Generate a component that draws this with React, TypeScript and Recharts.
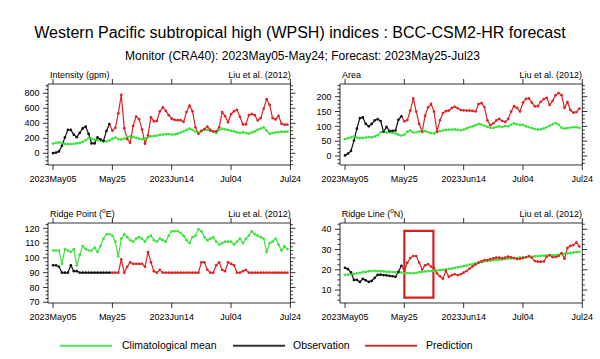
import React from 'react';
import { LineChart, Line, XAxis, YAxis, ReferenceArea } from 'recharts';

// ---------- data ----------
const tickDays = [0, 20, 40, 60, 80];
const tickLabels = ['2023May05', 'May25', '2023Jun14', 'Jul04', 'Jul24'];

const intensityClim = [
  130, 138, 145, 140, 125, 122, 124, 126, 132, 138, 152, 175, 205, 195, 180, 178, 168, 160, 158, 172,
  195, 210, 190, 185, 195, 215, 225, 218, 205, 195, 190, 195, 215, 225, 232, 235, 245, 248, 255, 255,
  250, 252, 262, 276, 293, 311, 328, 310, 290, 280, 298, 312, 312, 300, 290, 270, 312, 328, 320, 312,
  300, 292, 280, 270, 282, 270, 262, 278, 292, 315, 330, 345, 302, 260, 270, 278, 280, 290, 285, 288,
];
const intensityObs = [2, 10, 25, 100, 212, 312, 312, 248, 215, 272, 332, 356, 258, 132, 132, 212, 185, 165, 298, 391];
const intensityPred = [
  300, 340, 535, 780, 335, 190, 140, 365, 490, 455, 320, 130, 240, 480, 425, 432, 560, 612, 565, 508,
  462, 445, 442, 442, 420, 550, 635, 560, 345, 260, 298, 322, 355, 312, 292, 292, 350, 550, 495, 415,
  522, 560, 580, 485, 385, 385, 510, 522, 508, 438, 470, 595, 722, 645, 470, 452, 500, 395, 382, 382,
];

const areaClim = [
  57, 60, 63, 66, 62, 60, 61, 62, 64, 63, 66, 70, 80, 84, 79, 80, 78, 76, 72, 69,
  72, 82, 86, 79, 80, 83, 86, 84, 80, 77, 76, 80, 84, 86, 88, 89, 89, 90, 88, 86,
  89, 93, 97, 100, 104, 108, 106, 102, 98, 95, 95, 98, 100, 98, 101, 100, 106, 110, 107, 105,
  105, 100, 97, 94, 91, 89, 90, 93, 97, 102, 107, 111, 106, 95, 92, 94, 96, 97, 97, 95,
];
const areaObs = [2, 8, 17, 52, 92, 128, 130, 108, 100, 108, 120, 124, 118, 82, 98, 84, 85, 86, 122, 134];
const areaPred = [
  117, 121, 153, 194, 150, 108, 82, 136, 164, 176, 150, 83, 120, 145, 151, 153, 162, 166, 161, 155,
  154, 153, 153, 152, 150, 175, 178, 165, 120, 104, 110, 120, 125, 118, 115, 125, 150, 168, 162, 150,
  180, 193, 194, 180, 167, 168, 183, 192, 196, 172, 186, 205, 212, 205, 162, 182, 155, 146, 148, 160,
];

const ridgePointClim = [
  105, 105, 105, 96, 106, 105, 104, 106, 95, 102, 108, 106, 105, 105, 107, 104, 108, 113, 116, 116,
  115, 111, 101, 113, 116, 114, 112, 111, 113, 114, 113, 111, 114, 115, 112, 111, 113, 112, 111, 115,
  118, 118, 118, 117, 115, 112, 110, 114, 115, 119.5, 118, 114, 112, 113, 114, 111, 109, 110, 111, 111,
  111, 109, 111, 113, 110, 113, 115, 118, 116, 115, 114, 113, 104, 110, 111, 113, 109, 105, 108, 106,
];
const ridgePointObs = [95, 95, 94, 90, 90, 90, 95, 91, 91, 90, 90, 90, 90, 90, 90, 90, 90, 90, 90, 90];
const ridgePointPred = [
  90, 90, 90, 99, 90, 94, 97, 96, 96, 96, 96, 94, 104, 97, 91, 90, 92, 90, 90, 90,
  90, 90, 90, 90, 90, 90, 90, 90, 90, 90, 97, 97, 92, 90, 90, 95, 97, 92, 91, 97,
  96, 95, 90, 90, 91, 92, 90, 90, 90, 90, 90, 90, 90, 90, 90, 90, 90, 90, 90, 90,
];

const ridgeLineClim = [
  17.5, 17.6, 17.8, 18.0, 18.3, 18.5, 18.8, 19.0, 19.3, 19.4, 19.5, 19.4, 19.3, 19.2, 19.0, 19.0, 18.9, 18.8, 18.7, 18.6,
  18.5, 18.4, 18.3, 18.3, 18.5, 18.8, 19.0, 19.2, 19.3, 19.4, 19.5, 19.6, 19.8, 20.0, 20.2, 20.4, 20.6, 20.9, 21.2, 21.5,
  21.8, 22.1, 22.5, 22.8, 23.2, 23.5, 23.8, 24.1, 24.3, 24.5, 24.7, 24.9, 25.0, 25.1, 25.3, 25.5, 25.6, 25.7, 25.8, 26.0,
  26.1, 26.2, 26.4, 26.5, 26.6, 26.8, 26.9, 27.0, 27.0, 27.1, 27.2, 27.3, 27.5, 27.7, 27.9, 28.1, 28.3, 28.5, 28.7, 28.9,
];
const ridgeLineObs = [21, 20.3, 18.7, 15, 15, 14, 15.5, 14.8, 14, 14.5, 16, 17.5, 17.6, 17.4, 17.2, 17, 16.8, 16.5, 19, 22];
const ridgeLinePred = [
  19.5, 23.5, 25.8, 26.8, 26.8, 23.5, 20.2, 22.2, 22.8, 21.6, 21, 18.2, 16.8, 15.6, 19.5, 16.5, 17.3, 17.8, 17.4, 17.8,
  18.6, 19.4, 20.6, 21.7, 22.6, 23.5, 24.2, 24.8, 24.8, 25.3, 25.6, 26, 26, 25.7, 26, 26.5, 26.2, 25.8, 25.3, 25.5,
  25.8, 26.2, 26.8, 26, 24.3, 24, 24, 24.1, 26.5, 27.3, 26.2, 26.3, 26.8, 28.2, 25.5, 30.8, 31.8, 32.2, 33.5, 31.5,
];

const intensityTicks = [0, 200, 400, 600, 800];
const areaTicks = [0, 50, 100, 150, 200];
const ridgePointTicks = [70, 80, 90, 100, 110, 120];
const ridgeLineTicks = [10, 20, 30, 40];

// highlight box (annotation) in ridge line panel: day range and latitude range
const highlightBox = { d1: 20, d2: 29.8, v1: 6.3, v2: 39.2 };

// ---------- styles ----------
const FONT = '"Liberation Sans", Arial, Helvetica, sans-serif';
const GREEN = '#3de23d';
const BLACK = '#111111';
const RED = '#e02222';
const OBS_LEN = 20;

function buildRows(clim: number[], obs: number[], pred: number[]) {
  const rows: any[] = [];
  for (let d = 0; d < clim.length; d++) {
    rows.push({
      d,
      clim: clim[d],
      obs: d < OBS_LEN ? obs[d] : null,
      pred: d >= OBS_LEN ? pred[d - OBS_LEN] : d === OBS_LEN - 1 ? obs[d] : null,
    });
  }
  return rows;
}

const makeDot = (color: string, skip: number) => (props: any) => {
  const { cx, cy, index } = props;
  if (cx == null || cy == null || index === skip || props.value == null) return <g key={`n${index}`} />;
  return <circle key={`c${index}`} cx={cx} cy={cy} r={1.35} fill={color} stroke="none" />;
};

type Cfg = {
  x0: number; x1: number; y0: number; y1: number;
  yDomain: [number, number]; yMajor: number[]; yMinorStep: number;
  clim: number[]; obs: number[]; pred: number[];
  box?: boolean;
};

function minorTicks(domain: [number, number], step: number) {
  const out: number[] = [];
  const start = Math.ceil(domain[0] / step - 1e-9) * step;
  for (let v = start; v <= domain[1] + 1e-9; v += step) out.push(Math.round(v * 1000) / 1000);
  return out;
}

function Panel({ cfg }: { cfg: Cfg }) {
  const padL = 45, padR = 12, padT = 25, padB = 28;
  const yAxisW = 38, rAxisW = 6, tAxisH = 6, bAxisH = 22;
  const plotW = cfg.x1 - cfg.x0;
  const plotH = cfg.y1 - cfg.y0;
  const width = plotW + padL + padR;
  const height = plotH + padT + padB;
  const margin = { left: padL - yAxisW, right: padR - rAxisW, top: padT - tAxisH, bottom: padB - bAxisH };
  const plotRight = padL + plotW;
  const plotBottom = padT + plotH;
  const rows = buildRows(cfg.clim, cfg.obs, cfg.pred);
  const yTicks = minorTicks(cfg.yDomain, cfg.yMinorStep);
  const xDomain: [number, number] = [-1.7, 80];

  const leftTick = (p: any) => {
    const v = p.payload.value;
    const y = p.payload.coordinate;
    const major = cfg.yMajor.includes(v);
    const len = major ? 5 : 2.5;
    return (
      <g key={`l${v}`}>
        <line x1={padL - len} x2={padL} y1={y} y2={y} stroke="#000" strokeWidth={0.8} />
        {major && (
          <text x={padL - 8.5} y={y + 3.2} textAnchor="end" fontSize={9} fontFamily={FONT} fill="#000">
            {v}
          </text>
        )}
      </g>
    );
  };
  const rightTick = (p: any) => {
    const v = p.payload.value;
    const y = p.payload.coordinate;
    const major = cfg.yMajor.includes(v);
    const len = major ? 5 : 2.5;
    return <line key={`r${v}`} x1={plotRight} x2={plotRight + len} y1={y} y2={y} stroke="#000" strokeWidth={0.8} />;
  };
  const bottomTick = (p: any) => {
    const v = p.payload.value;
    const x = p.payload.coordinate;
    const i = tickDays.indexOf(v);
    return (
      <g key={`b${v}`}>
        <line x1={x} x2={x} y1={plotBottom} y2={plotBottom + 5} stroke="#000" strokeWidth={0.8} />
        <text x={x} y={plotBottom + 17.5} textAnchor="middle" fontSize={9} fontFamily={FONT} fill="#000">
          {tickLabels[i]}
        </text>
      </g>
    );
  };
  const topTick = (p: any) => {
    const v = p.payload.value;
    const x = p.payload.coordinate;
    return <line key={`t${v}`} x1={x} x2={x} y1={padT} y2={padT - 5} stroke="#000" strokeWidth={0.8} />;
  };

  return (
    <div style={{ position: 'absolute', left: cfg.x0 - padL, top: cfg.y0 - padT, width, height }}>
      <LineChart width={width} height={height} data={rows} margin={margin}>
        <XAxis
          xAxisId="b" dataKey="d" type="number" domain={xDomain} allowDataOverflow ticks={tickDays}
          interval={0} height={bAxisH} tickLine={false} tick={bottomTick} axisLine={{ stroke: '#000', strokeWidth: 0.8 }}
        />
        <XAxis
          xAxisId="t" orientation="top" dataKey="d" type="number" domain={xDomain} allowDataOverflow ticks={tickDays}
          interval={0} height={tAxisH} tickLine={false} tick={topTick} axisLine={{ stroke: '#000', strokeWidth: 0.8 }}
        />
        <YAxis
          yAxisId="l" type="number" domain={cfg.yDomain} allowDataOverflow ticks={yTicks} interval={0}
          width={yAxisW} tickLine={false} tick={leftTick} axisLine={{ stroke: '#000', strokeWidth: 0.8 }}
        />
        <YAxis
          yAxisId="r" orientation="right" type="number" domain={cfg.yDomain} allowDataOverflow ticks={yTicks}
          interval={0} width={rAxisW} tickLine={false} tick={rightTick} axisLine={{ stroke: '#000', strokeWidth: 0.8 }}
        />
        <Line xAxisId="b" yAxisId="l" type="linear" dataKey="clim" stroke={GREEN} strokeWidth={1.2}
          dot={makeDot(GREEN, -1)} activeDot={false} isAnimationActive={false} />
        <Line xAxisId="b" yAxisId="l" type="linear" dataKey="obs" stroke={BLACK} strokeWidth={1.2}
          dot={makeDot(BLACK, -1)} activeDot={false} isAnimationActive={false} />
        <Line xAxisId="b" yAxisId="l" type="linear" dataKey="pred" stroke={RED} strokeWidth={1.2}
          dot={makeDot(RED, OBS_LEN - 1)} activeDot={false} isAnimationActive={false} />
        {cfg.box && (
          <ReferenceArea xAxisId="b" yAxisId="l" x1={highlightBox.d1} x2={highlightBox.d2}
            y1={highlightBox.v1} y2={highlightBox.v2} fill="none" fillOpacity={0}
            stroke="#d42020" strokeWidth={2.2} ifOverflow="visible" />
        )}
      </LineChart>
    </div>
  );
}

const panels: Cfg[] = [
  { x0: 48.3, x1: 290.7, y0: 84, y1: 165, yDomain: [-156, 924], yMajor: intensityTicks, yMinorStep: 50,
    clim: intensityClim, obs: intensityObs, pred: intensityPred },
  { x0: 339.7, x1: 582, y0: 84, y1: 165, yDomain: [-30.4, 242.8], yMajor: areaTicks, yMinorStep: 12.5,
    clim: areaClim, obs: areaObs, pred: areaPred },
  { x0: 48.3, x1: 290.7, y0: 223, y1: 303, yDomain: [69.5, 123.6], yMajor: ridgePointTicks, yMinorStep: 2.5,
    clim: ridgePointClim, obs: ridgePointObs, pred: ridgePointPred },
  { x0: 339.7, x1: 582, y0: 223, y1: 303, yDomain: [3.6, 43.1], yMajor: ridgeLineTicks, yMinorStep: 2.5,
    clim: ridgeLineClim, obs: ridgeLineObs, pred: ridgeLinePred, box: true },
];

export default function App() {
  const t = { fontFamily: FONT, fill: '#000' } as const;
  return (
    <div style={{ position: 'absolute', left: 0, top: 0, width: 600, height: 359, background: '#fff', overflow: 'hidden' }}>
      {panels.map((p, i) => (
        <Panel key={i} cfg={p} />
      ))}
      <svg width={600} height={359} style={{ position: 'absolute', left: 0, top: 0, pointerEvents: 'none' }}>
        <text x={300} y={37.5} textAnchor="middle" fontSize={16} {...t}>
          Western Pacific subtropical high (WPSH) indices : BCC-CSM2-HR forecast
        </text>
        <text x={302.5} y={60} textAnchor="middle" fontSize={12} {...t}>
          Monitor (CRA40): 2023May05-May24; Forecast: 2023May25-Jul23
        </text>

        <text x={50} y={78} fontSize={9} {...t}>Intensity (gpm)</text>
        <text x={290.7} y={78} fontSize={9} textAnchor="end" {...t}>Liu et al. (2012)</text>
        <text x={342} y={78} fontSize={9} {...t}>Area</text>
        <text x={582} y={78} fontSize={9} textAnchor="end" {...t}>Liu et al. (2012)</text>

        <text x={50} y={216.5} fontSize={9} {...t}>
          Ridge Point (<tspan fontSize={6.5} dy={-3.5}>o</tspan><tspan dy={3.5}>E)</tspan>
        </text>
        <text x={290.7} y={216.5} fontSize={9} textAnchor="end" {...t}>Liu et al. (2012)</text>
        <text x={341.7} y={216.5} fontSize={9} {...t}>
          Ridge Line (<tspan fontSize={6.5} dy={-3.5}>o</tspan><tspan dy={3.5}>N)</tspan>
        </text>
        <text x={582} y={216.5} fontSize={9} textAnchor="end" {...t}>Liu et al. (2012)</text>

        <line x1={60} x2={112} y1={345.7} y2={345.7} stroke="#5cdc5c" strokeWidth={2} />
        <text x={122} y={349.4} fontSize={10.5} {...t}>Climatological mean</text>
        <line x1={233} x2={285} y1={345.7} y2={345.7} stroke="#333" strokeWidth={2} />
        <text x={293} y={349.4} fontSize={10.5} {...t}>Observation</text>
        <line x1={365} x2={417} y1={345.7} y2={345.7} stroke="#c83333" strokeWidth={2} />
        <text x={426} y={349.4} fontSize={10.5} {...t}>Prediction</text>
      </svg>
    </div>
  );
}
